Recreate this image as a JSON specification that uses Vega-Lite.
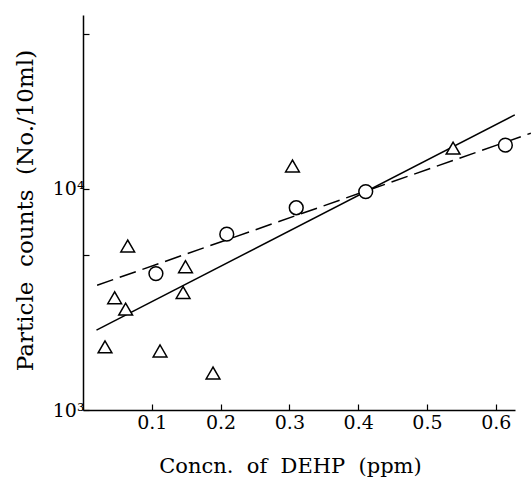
{
  "$schema": "https://vega.github.io/schema/vega-lite/v6.json",
  "autosize": {"type": "none"},
  "width": 432,
  "height": 395,
  "padding": {"left": 83, "right": 16, "top": 15, "bottom": 67},
  "background": "white",
  "config": {
    "view": {"stroke": null}
  },
  "datasets": {
    "pts": [
      {"conc": 0.032, "count": 1930, "series": "tri"},
      {"conc": 0.046, "count": 3220, "series": "tri"},
      {"conc": 0.062, "count": 2860, "series": "tri"},
      {"conc": 0.065, "count": 5520, "series": "tri"},
      {"conc": 0.112, "count": 1850, "series": "tri"},
      {"conc": 0.1455, "count": 3400, "series": "tri"},
      {"conc": 0.149, "count": 4450, "series": "tri"},
      {"conc": 0.189, "count": 1470, "series": "tri"},
      {"conc": 0.3045, "count": 12700, "series": "tri"},
      {"conc": 0.538, "count": 15300, "series": "tri"},
      {"conc": 0.106, "count": 4140, "series": "circ"},
      {"conc": 0.209, "count": 6240, "series": "circ"},
      {"conc": 0.31, "count": 8220, "series": "circ"},
      {"conc": 0.411, "count": 9730, "series": "circ"},
      {"conc": 0.614, "count": 15780, "series": "circ"}
    ],
    "solid": [
      {"conc": 0.0196, "count": 2296},
      {"conc": 0.6277, "count": 21630}
    ],
    "dashed": [
      {"conc": 0.0205, "count": 3666},
      {"conc": 0.651, "count": 17870}
    ]
  },
  "encoding": {
    "x": {
      "field": "conc",
      "type": "quantitative",
      "scale": {"domain": [0, 0.628], "nice": false, "zero": false},
      "axis": {
        "values": [0.1, 0.2, 0.3, 0.4, 0.5, 0.6],
        "format": ".1f",
        "grid": false,
        "domainColor": "black",
        "domainWidth": 1.5,
        "tickColor": "black",
        "tickWidth": 1.2,
        "tickSize": -6,
        "labelPadding": 9,
        "labelColor": "black",
        "labelFont": "DejaVu Serif",
        "labelFontSize": 19,
        "title": "Concn.\u00a0\u00a0of\u00a0\u00a0DEHP\u00a0\u00a0(ppm)",
        "titleColor": "black",
        "titleFont": "DejaVu Serif",
        "titleFontWeight": "normal",
        "titleFontSize": 21,
        "titleX": 207,
        "titleY": 62,
        "titleAlign": "center",
        "titleBaseline": "alphabetic"
      }
    },
    "y": {
      "field": "count",
      "type": "quantitative",
      "scale": {"type": "log", "domain": [1000, 61200], "nice": false},
      "axis": {
        "values": [1000, 5000, 10000, 50000],
        "labelExpr": "datum.value == 1000 ? '10³' : datum.value == 10000 ? '10⁴' : ''",
        "grid": false,
        "domainColor": "black",
        "domainWidth": 1.5,
        "tickColor": "black",
        "tickWidth": 1.2,
        "tickSize": -6,
        "labelPadding": 5,
        "labelColor": "black",
        "labelFont": "DejaVu Serif",
        "labelFontSize": 19,
        "title": "Particle\u00a0\u00a0counts\u00a0\u00a0(No./10ml)",
        "titleColor": "black",
        "titleFont": "DejaVu Serif",
        "titleFontWeight": "normal",
        "titleFontSize": 23,
        "titleX": -58,
        "titleY": 195,
        "titleAngle": -90,
        "titleAlign": "center",
        "titleBaseline": "middle"
      }
    }
  },
  "layer": [
    {
      "data": {"name": "solid"},
      "mark": {"type": "line", "color": "black", "strokeWidth": 1.5},
      "encoding": {}
    },
    {
      "data": {"name": "dashed"},
      "mark": {"type": "line", "color": "black", "strokeWidth": 1.5, "strokeDash": [17, 7]},
      "encoding": {}
    },
    {
      "data": {"name": "pts"},
      "mark": {"type": "point", "filled": true, "fill": "white", "stroke": "black", "strokeWidth": 1.5, "opacity": 1},
      "encoding": {
        "shape": {
          "field": "series",
          "type": "nominal",
          "scale": {"domain": ["tri", "circ"], "range": ["triangle-up", "circle"]},
          "legend": null
        },
        "size": {"value": 190}
      }
    }
  ]
}
